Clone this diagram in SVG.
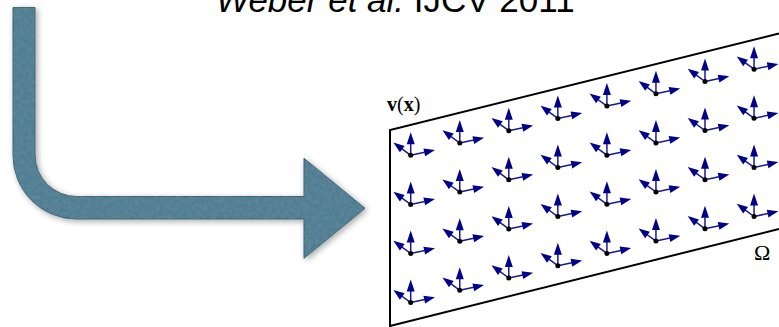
<svg xmlns="http://www.w3.org/2000/svg" xmlns:xlink="http://www.w3.org/1999/xlink" width="779" height="327" viewBox="0 0 779 327">
<style>
.title{font-family:"Liberation Sans",Arial,sans-serif;font-size:35px;fill:#000}
.lbl{font-family:"Liberation Serif","DejaVu Serif",serif;fill:#000}
.domain{fill:none;stroke:#000;stroke-width:2}
.stem{stroke:#1a1a90;stroke-width:1.5;fill:none}
.head{fill:#00008b}
</style>
<defs>
<filter id="shadow" x="-10%" y="-10%" width="120%" height="120%">
<feGaussianBlur in="SourceAlpha" stdDeviation="3" result="b"/>
<feOffset in="b" dx="1.5" dy="2" result="o"/>
<feComponentTransfer in="o" result="s"><feFuncA type="linear" slope="0.35"/></feComponentTransfer>
<feTurbulence type="fractalNoise" baseFrequency="0.25" numOctaves="2" seed="3" result="n"/>
<feColorMatrix in="n" type="matrix" values="0 0 0 0 0.2  0 0 0 0 0.33  0 0 0 0 0.4  0 0 0 0.55 -0.15" result="nc"/>
<feComposite in="nc" in2="SourceGraphic" operator="in" result="tex"/>
<feMerge><feMergeNode in="s"/><feMergeNode in="SourceGraphic"/><feMergeNode in="tex"/></feMerge>
</filter>
<g id="frame">
<line class="stem" x1="0" y1="0" x2="0" y2="-12"/>
<polygon class="head" points="0,-23 -4,-11 4,-11"/>
<line class="stem" x1="0" y1="0" x2="14" y2="-3"/>
<polygon class="head" points="24.3,-5.3 14.4,0.95 12.7,-6.87"/>
<line class="stem" x1="0" y1="0" x2="-9" y2="-6.6"/>
<polygon class="head" points="-17.3,-12.7 -6.06,-9.41 -10.8,-2.97"/>
<circle cx="0" cy="0" r="2.5" fill="#000"/>
</g>
</defs>
<rect width="779" height="327" fill="#fff"/>
<text class="title" x="216" y="12"><tspan font-style="italic">Weber et al.</tspan> IJCV 2011</text>
<g id="bent-arrow">
<path d="M13,7.5 L35,7.5 L35,155 A41.5,41.5 0 0 0 76.5,196.5 L304,196.5 L304,158.3 L365,208.3 L304,258.3 L304,219 L76.5,219 A63.5,63.5 0 0 1 13,155.5 Z" fill="#4f7d92" stroke="#3b6173" stroke-width="1" filter="url(#shadow)"/>
</g>
<g id="domain">
<polyline class="domain" points="779,33.5 390,130 390,326 779,229"/>
<text class="lbl" x="387" y="111" font-size="20"><tspan font-weight="bold">v</tspan>(<tspan font-weight="bold">x</tspan>)</text>
<text class="lbl" x="754" y="260" font-size="22">Ω</text>
</g>
<g id="frames">
<use xlink:href="#frame" x="410.7" y="155.3"/>
<use xlink:href="#frame" x="410.7" y="204.4"/>
<use xlink:href="#frame" x="410.7" y="253.5"/>
<use xlink:href="#frame" x="410.7" y="302.6"/>
<use xlink:href="#frame" x="459.75" y="143"/>
<use xlink:href="#frame" x="459.75" y="192.1"/>
<use xlink:href="#frame" x="459.75" y="241.2"/>
<use xlink:href="#frame" x="459.75" y="290.3"/>
<use xlink:href="#frame" x="508.8" y="130.7"/>
<use xlink:href="#frame" x="508.8" y="179.8"/>
<use xlink:href="#frame" x="508.8" y="228.9"/>
<use xlink:href="#frame" x="508.8" y="278"/>
<use xlink:href="#frame" x="557.85" y="118.4"/>
<use xlink:href="#frame" x="557.85" y="167.5"/>
<use xlink:href="#frame" x="557.85" y="216.6"/>
<use xlink:href="#frame" x="557.85" y="265.7"/>
<use xlink:href="#frame" x="606.9" y="106.1"/>
<use xlink:href="#frame" x="606.9" y="155.2"/>
<use xlink:href="#frame" x="606.9" y="204.3"/>
<use xlink:href="#frame" x="606.9" y="253.4"/>
<use xlink:href="#frame" x="655.95" y="93.8"/>
<use xlink:href="#frame" x="655.95" y="142.9"/>
<use xlink:href="#frame" x="655.95" y="192"/>
<use xlink:href="#frame" x="655.95" y="241.1"/>
<use xlink:href="#frame" x="705" y="81.5"/>
<use xlink:href="#frame" x="705" y="130.6"/>
<use xlink:href="#frame" x="705" y="179.7"/>
<use xlink:href="#frame" x="705" y="228.8"/>
<use xlink:href="#frame" x="754.05" y="69.2"/>
<use xlink:href="#frame" x="754.05" y="118.3"/>
<use xlink:href="#frame" x="754.05" y="167.4"/>
<use xlink:href="#frame" x="754.05" y="216.5"/>
</g>
</svg>
